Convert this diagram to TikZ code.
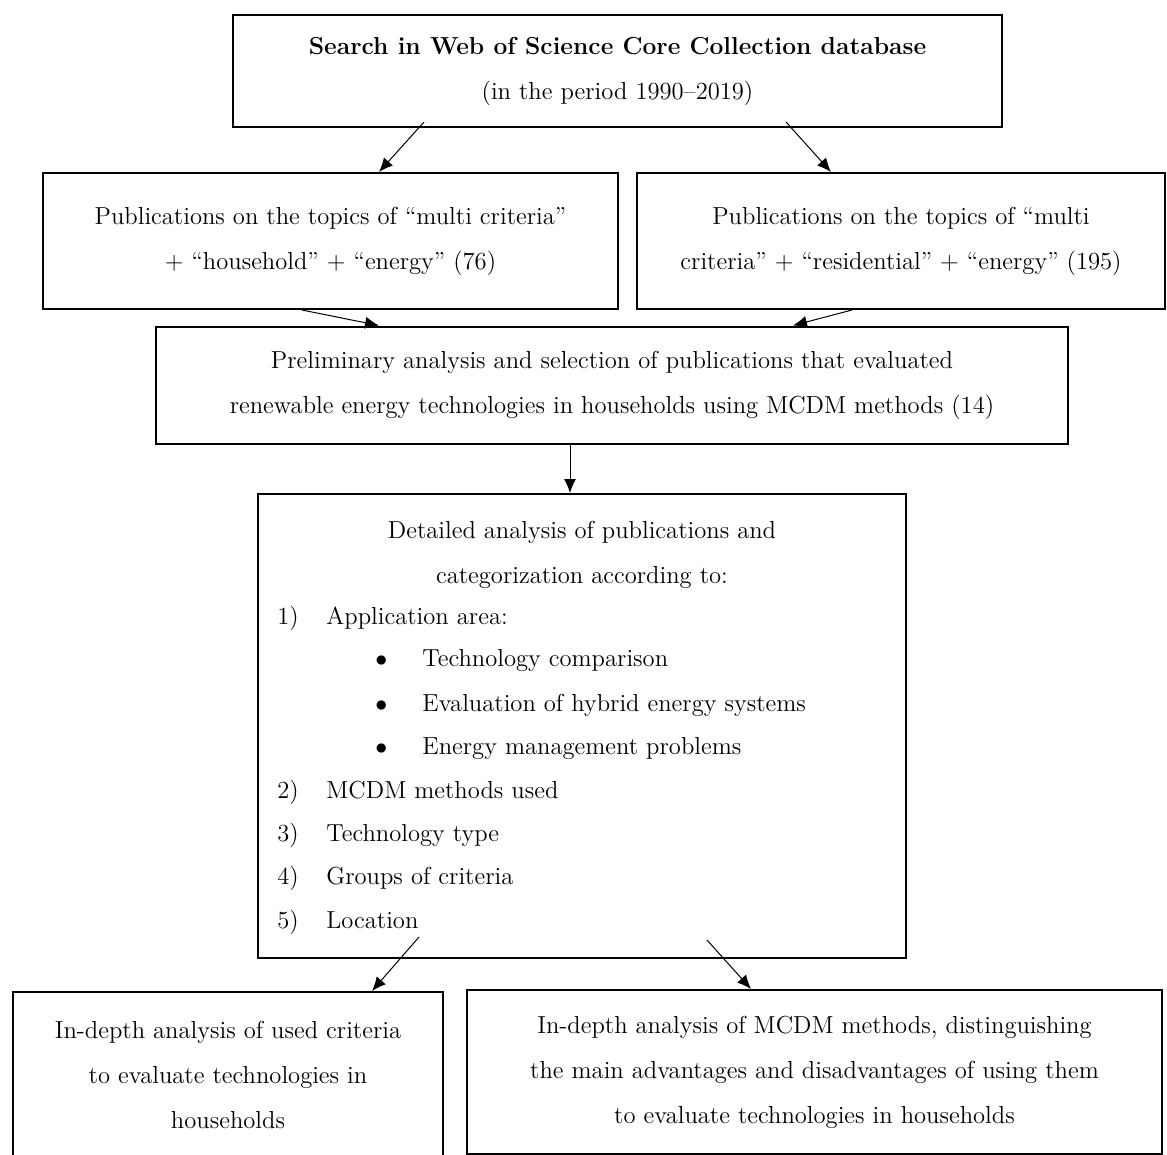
\documentclass[tikz,border=0pt]{standalone}
\usetikzlibrary{arrows,arrows.meta}

\tikzset{
  box/.style={draw, line width=1pt, align=center, inner sep=0pt, font=\fontsize{12.3}{22.5}\selectfont},
  txt/.style={anchor=base west, inner sep=0pt, font=\fontsize{12.3}{22.5}\selectfont},
  arr/.style={-{Latex[length=7pt,width=6pt]}, line width=0.5pt}
}

\begin{document}
\begin{tikzpicture}[x=0.5pt,y=-0.5pt]
\useasboundingbox (0,0) rectangle (1167,1155);

% boxes
\node[box, minimum width=384.5pt, minimum height=56pt] (search) at (617.5,71)
  {\textbf{Search in Web of Science Core Collection database}\\(in the period 1990--2019)};
\node[box, minimum width=287.5pt, minimum height=68pt] (pubhouse) at (330.5,241)
  {Publications on the topics of ``multi criteria''\\+ ``household'' + ``energy'' (76)};
\node[box, minimum width=264pt, minimum height=68pt] (pubres) at (901,241)
  {Publications on the topics of ``multi\\criteria'' + ``residential'' + ``energy'' (195)};
\node[box, minimum width=456pt, minimum height=58.5pt] (prelim) at (612,385)
  {Preliminary analysis and selection of publications that evaluated\\renewable energy technologies in households using MCDM methods (14)};
\node[box, minimum width=324pt, minimum height=232pt] (detail) at (582,726) {};
\node[box, minimum width=215pt, minimum height=92pt, text depth=0pt] (crit) at (228,1084) {};
\node[box, draw=none] (crittext) at (228,1075)
  {In-depth analysis of used criteria\\to evaluate technologies in\\households};
\node[box, minimum width=347.5pt, minimum height=82pt] (methods) at (814.5,1072)
  {In-depth analysis of MCDM methods, distinguishing\\the main advantages and disadvantages of using them\\to evaluate technologies in households};

% contents of the detailed box
\node[box, draw=none] (dhead) at (582,554.5)
  {Detailed analysis of publications and\\categorization according to:};
\foreach \i/\y/\t in {1/618/Application area:, 2/792/MCDM methods used, 3/835/Technology type, 4/878/Groups of criteria, 5/922/Location}{
  \node[txt] (num\i) at (277,\y+6) {\i)};
  \node[txt] (item\i) at (326,\y+6) {\t};
}
\foreach \j/\y/\t in {1/660/Technology comparison, 2/705/Evaluation of hybrid energy systems, 3/748/Energy management problems}{
  \node[txt] (dot\j) at (375,\y+6) {$\bullet$};
  \node[txt] (sub\j) at (422,\y+6) {\t};
}

% arrows
\draw[arr] ([shift={(-193.5,-6)}]search.south) -- ([xshift=24.25pt]pubhouse.north);
\draw[arr] ([shift={(168.5,-6)}]search.south) -- ([xshift=-35pt]pubres.north);
\draw[arr] ([xshift=-14.25pt]pubhouse.south) -- ([xshift=-116.5pt]prelim.north);
\draw[arr] ([xshift=-24.5pt]pubres.south) -- ([xshift=90.5pt]prelim.north);
\draw[arr] ([xshift=-21pt]prelim.south) -- ([xshift=-6pt]detail.north);
\draw[arr] ([shift={(-163,-22)}]detail.south) -- ([xshift=72pt]crit.north);
\draw[arr] ([shift={(125,-19)}]detail.south) -- ([xshift=-31.75pt]methods.north);
\end{tikzpicture}
\end{document}
